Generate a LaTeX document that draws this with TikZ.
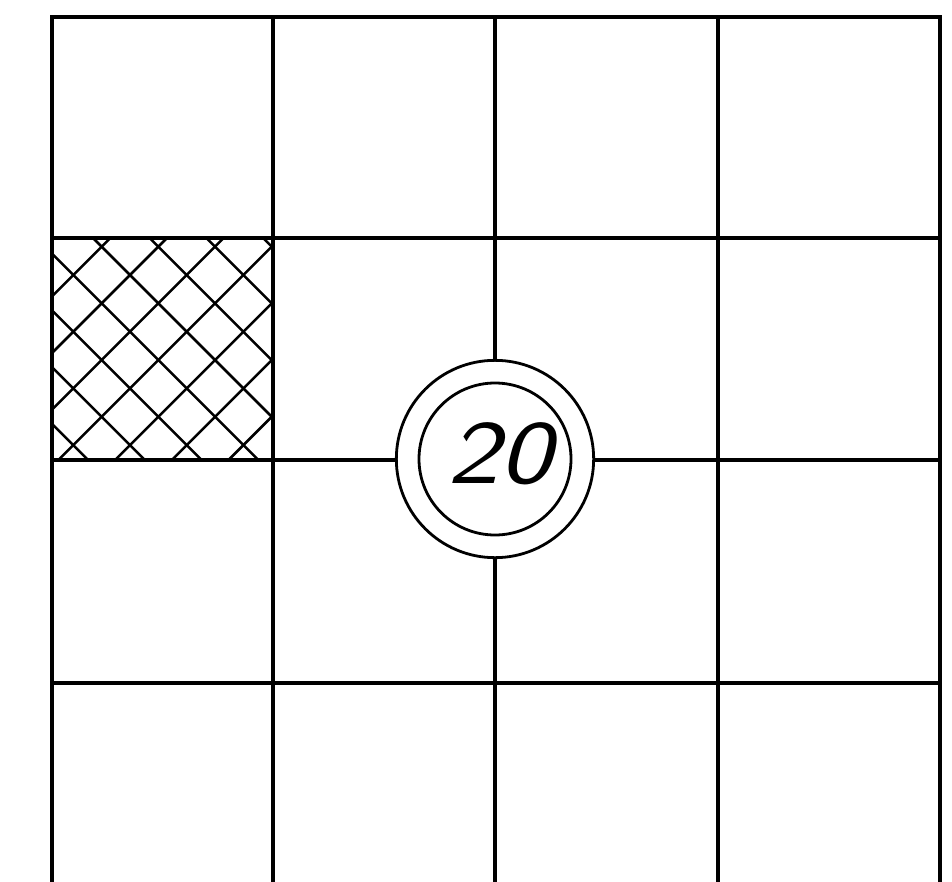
\documentclass[tikz,border=0pt]{standalone}
\usepackage{fontspec}
\begin{document}
\begin{tikzpicture}[x=0.75pt,y=-0.75pt,
  gridline/.style={line width=2.6pt, line cap=rect},
  hatchline/.style={line width=1.9pt},
  ringline/.style={line width=2.1pt}]
\useasboundingbox (0,0) rectangle (952,881);
% cross hatch of the shaded cell
\begin{scope}
\clip (52,238) rectangle (273,460);
\foreach \c in {234.9,291.6,348.3,405,461.7,518.4,575.1,631.8,688.5,745.2}
  \draw[hatchline] ({\c-200},200) -- ({\c-500},500);
\foreach \d in {-428.5,-371.8,-315.1,-258.4,-201.7,-145,-88.3,-31.6,25.1,81.8}
  \draw[hatchline] ({\d+200},200) -- ({\d+500},500);
\end{scope}
% grid
\foreach \x in {52,273,495,718,940}
  \draw[gridline] (\x,17) -- (\x,881);
\draw[gridline] (52,17) -- (940,17);
\foreach \y in {238,460,683}
  \draw[gridline] (52,\y) -- (940,\y);
% ring with number
\node (ring) [circle, draw, fill=white, ringline, minimum size=148pt, inner sep=0pt] at (495,459) {};
\draw[ringline] (ring.center) circle (76);
\node (num) at (499,454) {\scalebox{1.22}[1]{\fontsize{68}{68}\selectfont\sffamily\itshape 20}};
\end{tikzpicture}
\end{document}
